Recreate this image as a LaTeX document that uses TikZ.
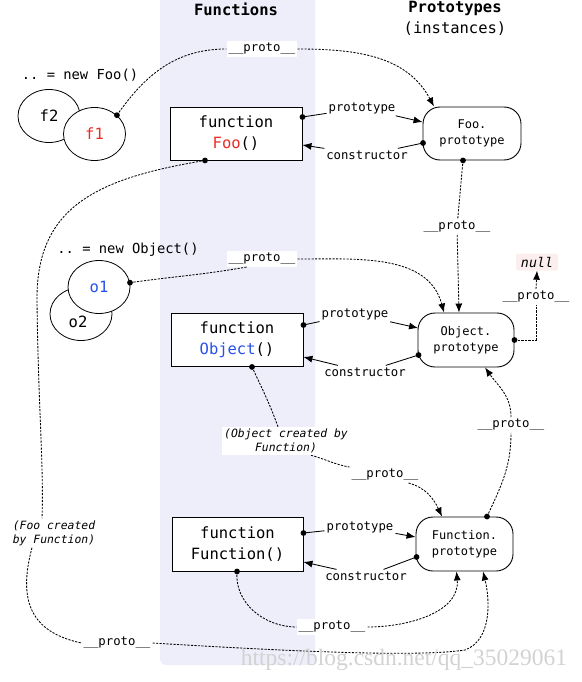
\documentclass[tikz,border=0pt]{standalone}
\usepackage{fontspec}
\setmonofont{DejaVu Sans Mono}
\newfontfamily\wmfont{Liberation Serif}
\usetikzlibrary{arrows.meta,shapes.geometric}
\definecolor{band}{RGB}{238,238,251}
\definecolor{jsred}{RGB}{235,45,35}
\definecolor{jsblue}{RGB}{40,80,235}
\definecolor{nullbg}{RGB}{252,238,238}
\definecolor{wmgray}{RGB}{210,210,210}
\newcommand{\fbig}{\fontsize{15.5pt}{21pt}\selectfont}
\newcommand{\fmid}{\fontsize{13.8pt}{16pt}\selectfont}
\newcommand{\flab}{\fontsize{12.3pt}{15pt}\selectfont}
\newcommand{\fpro}{\fontsize{12pt}{16pt}\selectfont}
\newcommand{\fital}{\fontsize{11.4pt}{14pt}\selectfont\itshape}
\begin{document}
\begin{tikzpicture}[x=1pt,y=-1pt,font=\ttfamily,
  fnbox/.style={draw,line width=0.9pt,fill=white,minimum width=132pt,minimum height=53pt,inner sep=0pt,align=center,font=\ttfamily\fbig},
  pbox/.style={draw,line width=0.9pt,fill=white,rounded corners=17pt,minimum width=97pt,minimum height=54pt,inner sep=0pt,align=center,font=\ttfamily\fpro},
  ell/.style={ellipse,draw,line width=0.8pt,fill=white,minimum width=62pt,minimum height=53pt,inner sep=0pt,font=\ttfamily\fbig},
  lbl/.style={fill=white,inner sep=2pt,font=\ttfamily\flab},
  tlbl/.style={inner sep=2pt,font=\ttfamily\flab},
  note/.style={fill=white,inner sep=2pt,font=\ttfamily\fital},
  dl/.style={line width=0.85pt,dash pattern=on 2.2pt off 1.3pt},
  sl/.style={line width=0.85pt},
  arr/.style={-{Latex[length=9pt,width=7pt]}}]
\useasboundingbox (0,0) rectangle (581,682);
% band
\fill[band,rounded corners=6pt] (160,-20) rectangle (315,665);
% titles
\node[font=\ttfamily\bfseries\fbig] (tf) at (236,9) {Functions};
\node[font=\ttfamily\bfseries\fbig] (tp) at (455,8) {Prototypes};
\node[font=\ttfamily\fbig] (ti) at (455,29) {(instances)};
% instances
\node[font=\ttfamily\fmid] (nf) at (80,75) {.. = new Foo()};
\node[ell] (f2) at (49,116) {f2};
\node[ell] (f1) at (94.5,134) {\textcolor{jsred}{f1}};
\node[font=\ttfamily\fmid] (no) at (128,250) {.. = new Object()};
\node[ell] (o2) at (81,314) {};
\node[font=\ttfamily\fbig] (o2t) at (78,322) {o2};
\node[ell] (o1) at (99,287) {\textcolor{jsblue}{o1}};
% function boxes
\node[fnbox] (fooFn) at (236,133.5) {function\\\textcolor{jsred}{Foo}()};
\node[fnbox] (objFn) at (237,340) {function\\\textcolor{jsblue}{Object}()};
\node[fnbox,minimum width=131pt,minimum height=54pt] (funFn) at (237.5,544) {function\\Function()};
% prototype boxes
\node[pbox,minimum width=98pt,minimum height=53pt] (fooP) at (472,133.5) {Foo.\\prototype};
\node[pbox,minimum width=96pt] (objP) at (466,340) {Object.\\prototype};
\node[pbox] (funP) at (464.5,544) {Function.\\prototype};
\node[fill=nullbg,rounded corners=2pt,inner sep=0pt,minimum width=42pt,minimum height=17pt,font=\ttfamily\fontsize{13.3pt}{15pt}\selectfont\itshape] (null) at (537,262) {null};
% labels
\node[lbl] (p1) at (262,49) {\_\_proto\_\_};
\node[tlbl] (lp1) at (362,108) {prototype};
\node[tlbl] (lc1) at (367,155) {constructor};
\node[lbl] (lpr2) at (457,227) {\_\_proto\_\_};
\node[lbl] (p3) at (262,259) {\_\_proto\_\_};
\node[tlbl] (lp2) at (355,314) {prototype};
\node[tlbl] (lc2) at (365,372) {constructor};
\node[lbl] (lp4) at (536,297) {\_\_proto\_\_};
\node[note,align=center] (oc) at (286,441) {(Object created by\\Function)};
\node[lbl] (p5) at (385,475) {\_\_proto\_\_};
\node[lbl] (p6) at (511,425) {\_\_proto\_\_};
\node[tlbl] (lp3) at (360,527) {prototype};
\node[tlbl] (lc3) at (366,576) {constructor};
\node[lbl] (p7) at (332,627) {\_\_proto\_\_};
\node[note,align=left,fill=none] (fc) at (54,533) {(Foo created\\by Function)};
\node[lbl] (p8) at (117,643) {\_\_proto\_\_};
% dots
\coordinate (d1) at (f1.40);
\coordinate (d2) at ([yshift=16.5pt]fooFn.east);
\coordinate (d3) at ([xshift=0.5pt,yshift=-9.5pt]fooP.west);
\coordinate (d4) at ([xshift=-9pt]fooP.south);
\coordinate (d5) at (o1.8);
\coordinate (d6) at ([yshift=15pt]objFn.east);
\coordinate (d7) at ([xshift=1pt,yshift=-15pt]objP.west);
\coordinate (d8) at (objP.east);
\coordinate (d9) at ([xshift=15pt]objFn.south);
\coordinate (d10) at ([xshift=22.5pt]funP.north);
\coordinate (d11) at ([yshift=11pt]funFn.east);
\coordinate (d12) at ([xshift=1pt,yshift=-13pt]funP.west);
\coordinate (d13) at ([xshift=-0.5pt]funFn.south);
\coordinate (d14) at ([xshift=-31pt]fooFn.south);
% 1
\draw[dl] (d1) to[out=55,in=180] (p1.west);
\draw[dl,arr] (p1.east) to[out=0,in=118] ([xshift=-38pt]fooP.north);
% 2,3
\draw[sl] (d2) -- (lp1);
\draw[sl,arr] (lp1) -- ([yshift=11.5pt]fooP.west);
\draw[sl] (d3) -- (lc1);
\draw[sl,arr] (lc1) -- ([yshift=-11.5pt]fooFn.east);
% 4
\draw[dl] (d4) -- (lpr2);
\draw[dl,arr] (lpr2) -- ([xshift=-7pt]objP.north);
% 5
\draw[dl] (d5) to[out=8,in=190] ([xshift=-15pt]p3.south);
\draw[dl,arr] (p3.east) to[out=0,in=105] ([xshift=-22pt]objP.north);
% 6,7
\draw[sl] (d6) -- (lp2);
\draw[sl,arr] (lp2) -- ([xshift=0.5pt,yshift=12pt]objP.west);
\draw[sl] (d7) -- (lc2);
\draw[sl,arr] (lc2) -- ([yshift=-17pt]objFn.east);
% 8
\draw[dl] (d8) -| (lp4.south);
\draw[dl,arr] (lp4.north) -- (null.south);
% 9
\draw[dl] (d9) to[out=-65,in=110] ([xshift=-8pt]oc.north);
\draw[dl] ([xshift=25pt]oc.south) to[out=-15,in=170] (p5.north west);
\draw[dl,arr] ([xshift=-12pt]p5.south east) to[out=-15,in=115] ([xshift=-22.5pt]funP.north);
% 10
\draw[dl] (d10) to[out=65,in=-90] (p6.south);
\draw[dl,arr] (p6.north) to[out=90,in=-55] ([xshift=19pt]objP.south);
% 11,12
\draw[sl] (d11) -- (lp3);
\draw[sl,arr] (lp3) -- ([yshift=7pt]funP.west);
\draw[sl] (d12) -- (lc3);
\draw[sl,arr] (lc3) -- ([yshift=-18pt]funFn.east);
% 13
\draw[dl] (d13) to[out=-95,in=180] (p7.west);
\draw[dl,arr] (p7.east) to[out=0,in=-85] ([xshift=-8pt]funP.south);
% 14
\draw[dl] (d14) .. controls (100,178) and (36,205) .. (37,300) .. controls (38,400) and (44,470) .. ([xshift=-12pt]fc.north);
\draw[dl] ([xshift=-22pt]fc.south) .. controls (18,600) and (30,632) .. (p8.west);
\draw[dl,arr] (p8.east) .. controls (300,652) and (420,657) .. (465,650) .. controls (492,640) and (490,600) .. ([xshift=18.5pt]funP.south);
% dots
\foreach \d in {d1,d2,d3,d4,d5,d6,d7,d8,d9,d10,d11,d12,d13,d14} \fill (\d) circle (2.9pt);
% watermark
\node[text=wmgray,inner sep=0pt,font=\wmfont\fontsize{23.5pt}{26pt}\selectfont] (wmk) at (404,660) {https://blog.csdn.net/qq\_35029061};
\end{tikzpicture}
\end{document}
